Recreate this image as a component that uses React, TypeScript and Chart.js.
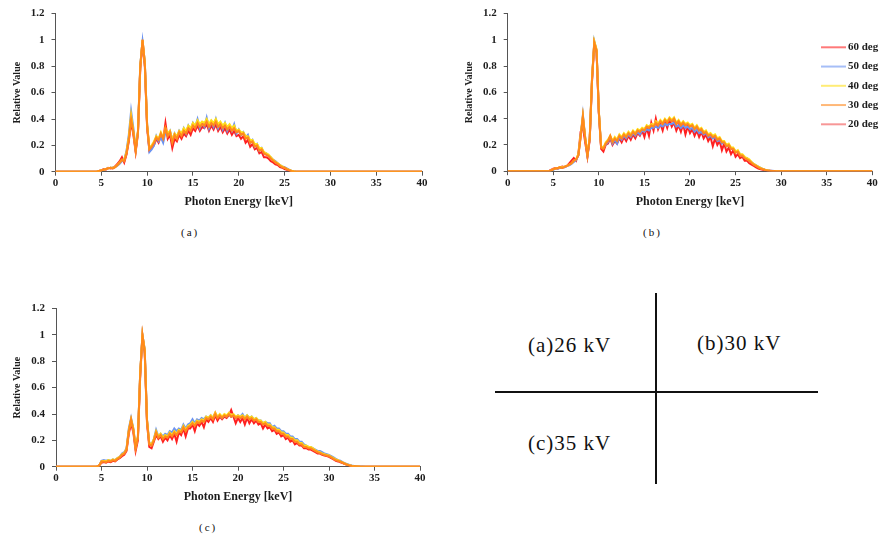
import React, { useEffect, useRef } from 'react';
import { Chart, registerables } from 'chart.js';

Chart.register(...registerables);

// ---------- data ----------
const E_START = 4.5; // keV of first sample in every series
const E_STEP = 0.25; // keV between samples
const E_MIN = 0;
const E_MAX = 40;
const X_STEP = 5;
const Y_MAX = 1.2;
const Y_STEP = 0.2;

const SERIES_LABELS = ['60 deg', '50 deg', '40 deg', '30 deg', '20 deg'];
const SERIES_COLORS = ['#ff2020', '#6b93f2', '#ffe01a', '#ff891c', '#f25252'];
const SERIES_ORDER = [4, 3, 1, 0, 2];

const PANEL_LABELS = ['(a)', '(b)', '(c)'];
const KEY_LABELS = ['(a)26 kV', '(b)30 kV', '(c)35 kV'];

// (a) 26 kV
const A_60 = [
  0, 0.005, 0.01, 0.02, 0.015, 0.03, 0.025, 0.03, 0.04, 0.06,
  0.08, 0.11, 0.07, 0.13, 0.23, 0.38, 0.28, 0.15, 0.29, 0.78,
  0.98, 0.80, 0.33, 0.16, 0.18, 0.20, 0.25, 0.22, 0.27, 0.24,
  0.37, 0.25, 0.28, 0.18, 0.25, 0.23, 0.28, 0.25, 0.29, 0.27,
  0.31, 0.28, 0.33, 0.31, 0.35, 0.31, 0.34, 0.33, 0.36, 0.31,
  0.35, 0.32, 0.36, 0.31, 0.34, 0.30, 0.33, 0.29, 0.32, 0.28,
  0.31, 0.27, 0.28, 0.25, 0.27, 0.22, 0.24, 0.19, 0.21, 0.17,
  0.18, 0.14, 0.15, 0.11, 0.11, 0.10, 0.08, 0.07, 0.055, 0.05,
  0.035, 0.03, 0.02, 0.015, 0.008, 0.004, 0.001, 0, 0,
];
const A_50 = [
  0, 0.005, 0.01, 0.015, 0.02, 0.025, 0.03, 0.03, 0.035, 0.045,
  0.06, 0.08, 0.09, 0.16, 0.28, 0.46, 0.33, 0.17, 0.31, 0.81,
  0.99, 0.83, 0.36, 0.15, 0.17, 0.20, 0.27, 0.23, 0.26, 0.22,
  0.30, 0.28, 0.31, 0.24, 0.29, 0.26, 0.31, 0.28, 0.33, 0.29,
  0.35, 0.32, 0.37, 0.34, 0.40, 0.33, 0.37, 0.34, 0.41, 0.33,
  0.38, 0.34, 0.40, 0.33, 0.37, 0.32, 0.37, 0.31, 0.35, 0.31,
  0.36, 0.29, 0.32, 0.28, 0.30, 0.26, 0.28, 0.22, 0.24, 0.19,
  0.21, 0.16, 0.18, 0.14, 0.14, 0.12, 0.11, 0.09, 0.08, 0.065,
  0.05, 0.04, 0.035, 0.025, 0.015, 0.008, 0.003, 0.001, 0,
];
const A_40 = [
  0, 0.005, 0.01, 0.015, 0.02, 0.025, 0.03, 0.03, 0.035, 0.05,
  0.07, 0.09, 0.09, 0.15, 0.26, 0.43, 0.31, 0.17, 0.31, 0.80,
  1.00, 0.83, 0.36, 0.18, 0.20, 0.23, 0.27, 0.25, 0.30, 0.26,
  0.33, 0.29, 0.31, 0.24, 0.29, 0.27, 0.31, 0.29, 0.33, 0.31,
  0.35, 0.33, 0.37, 0.35, 0.39, 0.36, 0.38, 0.37, 0.40, 0.36,
  0.39, 0.37, 0.40, 0.36, 0.38, 0.35, 0.37, 0.34, 0.36, 0.33,
  0.35, 0.31, 0.32, 0.30, 0.30, 0.27, 0.27, 0.24, 0.24, 0.21,
  0.21, 0.18, 0.18, 0.15, 0.14, 0.13, 0.11, 0.09, 0.075, 0.065,
  0.05, 0.04, 0.03, 0.022, 0.014, 0.007, 0.003, 0, 0,
];
const A_30 = [
  0, 0.005, 0.01, 0.015, 0.02, 0.025, 0.03, 0.025, 0.035, 0.05,
  0.07, 0.09, 0.08, 0.14, 0.24, 0.40, 0.30, 0.16, 0.30, 0.80,
  1.00, 0.82, 0.35, 0.17, 0.19, 0.22, 0.26, 0.24, 0.29, 0.25,
  0.33, 0.27, 0.30, 0.22, 0.28, 0.25, 0.30, 0.27, 0.31, 0.29,
  0.33, 0.31, 0.35, 0.33, 0.37, 0.34, 0.36, 0.35, 0.38, 0.34,
  0.37, 0.35, 0.38, 0.34, 0.36, 0.33, 0.35, 0.32, 0.34, 0.31,
  0.33, 0.30, 0.31, 0.28, 0.29, 0.25, 0.26, 0.22, 0.23, 0.19,
  0.20, 0.16, 0.17, 0.14, 0.13, 0.12, 0.10, 0.085, 0.07, 0.06,
  0.045, 0.035, 0.03, 0.02, 0.012, 0.006, 0.002, 0, 0,
];
const A_20 = [
  0, 0.005, 0.01, 0.015, 0.02, 0.025, 0.03, 0.025, 0.035, 0.05,
  0.07, 0.09, 0.08, 0.14, 0.25, 0.41, 0.30, 0.16, 0.30, 0.79,
  1.00, 0.82, 0.35, 0.17, 0.19, 0.22, 0.26, 0.25, 0.28, 0.26,
  0.32, 0.28, 0.30, 0.23, 0.28, 0.26, 0.30, 0.28, 0.32, 0.30,
  0.33, 0.32, 0.36, 0.33, 0.37, 0.35, 0.37, 0.35, 0.38, 0.35,
  0.37, 0.36, 0.38, 0.35, 0.36, 0.34, 0.35, 0.33, 0.34, 0.32,
  0.33, 0.30, 0.31, 0.29, 0.29, 0.26, 0.26, 0.23, 0.23, 0.20,
  0.20, 0.17, 0.17, 0.14, 0.13, 0.12, 0.10, 0.09, 0.07, 0.06,
  0.045, 0.035, 0.03, 0.02, 0.012, 0.006, 0.002, 0, 0,
];

// (b) 30 kV
const B_60 = [
  0, 0.01, 0.02, 0.025, 0.02, 0.03, 0.035, 0.03, 0.04, 0.06,
  0.08, 0.10, 0.08, 0.13, 0.30, 0.34, 0.22, 0.11, 0.24, 0.68,
  0.97, 0.90, 0.44, 0.17, 0.15, 0.20, 0.21, 0.25, 0.20, 0.23,
  0.21, 0.25, 0.22, 0.26, 0.23, 0.27, 0.24, 0.28, 0.25, 0.29,
  0.27, 0.31, 0.26, 0.33, 0.27, 0.37, 0.31, 0.40, 0.32, 0.36,
  0.31, 0.38, 0.33, 0.39, 0.34, 0.37, 0.31, 0.35, 0.30, 0.36,
  0.28, 0.34, 0.29, 0.32, 0.27, 0.31, 0.26, 0.30, 0.25, 0.28,
  0.23, 0.26, 0.19, 0.25, 0.20, 0.23, 0.16, 0.21, 0.15, 0.18,
  0.13, 0.16, 0.11, 0.13, 0.10, 0.11, 0.08, 0.08, 0.06, 0.05,
  0.04, 0.03, 0.02, 0.015, 0.01, 0.006, 0.004, 0.002, 0.001, 0,
  0, 0, 0,
];
const B_50 = [
  0, 0.005, 0.01, 0.02, 0.02, 0.025, 0.03, 0.03, 0.04, 0.045,
  0.055, 0.07, 0.085, 0.12, 0.27, 0.43, 0.26, 0.12, 0.25, 0.70,
  0.99, 0.92, 0.45, 0.19, 0.18, 0.20, 0.22, 0.26, 0.21, 0.24,
  0.21, 0.26, 0.24, 0.27, 0.25, 0.28, 0.26, 0.29, 0.27, 0.30,
  0.28, 0.31, 0.30, 0.32, 0.31, 0.33, 0.33, 0.34, 0.33, 0.35,
  0.34, 0.36, 0.35, 0.36, 0.36, 0.37, 0.34, 0.35, 0.33, 0.35,
  0.33, 0.34, 0.32, 0.33, 0.30, 0.32, 0.29, 0.30, 0.28, 0.29,
  0.26, 0.27, 0.25, 0.26, 0.23, 0.24, 0.21, 0.22, 0.19, 0.20,
  0.17, 0.17, 0.15, 0.15, 0.13, 0.12, 0.10, 0.10, 0.08, 0.07,
  0.055, 0.045, 0.035, 0.025, 0.018, 0.012, 0.008, 0.005, 0.003, 0.001,
  0, 0, 0,
];
const B_40 = [
  0, 0.005, 0.015, 0.02, 0.025, 0.03, 0.03, 0.035, 0.04, 0.05,
  0.06, 0.08, 0.09, 0.13, 0.27, 0.42, 0.26, 0.13, 0.26, 0.71,
  0.99, 0.93, 0.46, 0.19, 0.18, 0.22, 0.24, 0.27, 0.23, 0.26,
  0.24, 0.28, 0.26, 0.29, 0.27, 0.30, 0.28, 0.31, 0.29, 0.32,
  0.31, 0.33, 0.32, 0.35, 0.34, 0.36, 0.35, 0.38, 0.36, 0.39,
  0.37, 0.40, 0.38, 0.41, 0.39, 0.41, 0.37, 0.39, 0.36, 0.38,
  0.36, 0.37, 0.35, 0.36, 0.33, 0.35, 0.32, 0.33, 0.30, 0.31,
  0.28, 0.29, 0.27, 0.28, 0.25, 0.26, 0.23, 0.23, 0.20, 0.21,
  0.18, 0.18, 0.15, 0.16, 0.13, 0.13, 0.11, 0.10, 0.09, 0.07,
  0.055, 0.045, 0.035, 0.025, 0.018, 0.012, 0.007, 0.004, 0.002, 0.001,
  0, 0, 0,
];
const B_30 = [
  0, 0.005, 0.015, 0.02, 0.025, 0.03, 0.025, 0.035, 0.04, 0.05,
  0.06, 0.08, 0.09, 0.12, 0.26, 0.42, 0.25, 0.12, 0.25, 0.70,
  0.98, 0.92, 0.45, 0.18, 0.17, 0.21, 0.23, 0.27, 0.22, 0.25,
  0.23, 0.27, 0.25, 0.28, 0.26, 0.29, 0.27, 0.30, 0.28, 0.31,
  0.30, 0.32, 0.31, 0.34, 0.33, 0.35, 0.34, 0.37, 0.35, 0.38,
  0.36, 0.39, 0.37, 0.40, 0.38, 0.40, 0.36, 0.38, 0.35, 0.37,
  0.35, 0.36, 0.34, 0.35, 0.32, 0.34, 0.31, 0.32, 0.29, 0.30,
  0.27, 0.28, 0.26, 0.27, 0.24, 0.25, 0.22, 0.22, 0.19, 0.20,
  0.17, 0.17, 0.14, 0.15, 0.12, 0.12, 0.10, 0.09, 0.08, 0.065,
  0.05, 0.04, 0.03, 0.02, 0.015, 0.01, 0.006, 0.004, 0.002, 0.001,
  0, 0, 0,
];
const B_20 = [
  0, 0.005, 0.015, 0.02, 0.025, 0.03, 0.025, 0.035, 0.04, 0.05,
  0.06, 0.08, 0.09, 0.12, 0.26, 0.41, 0.25, 0.12, 0.25, 0.70,
  0.98, 0.92, 0.45, 0.18, 0.17, 0.21, 0.23, 0.26, 0.23, 0.25,
  0.24, 0.27, 0.25, 0.28, 0.27, 0.29, 0.28, 0.30, 0.29, 0.31,
  0.30, 0.32, 0.32, 0.34, 0.33, 0.35, 0.35, 0.36, 0.36, 0.38,
  0.37, 0.38, 0.38, 0.39, 0.38, 0.39, 0.36, 0.38, 0.35, 0.37,
  0.35, 0.36, 0.34, 0.35, 0.33, 0.34, 0.31, 0.32, 0.29, 0.30,
  0.27, 0.28, 0.26, 0.27, 0.24, 0.25, 0.22, 0.22, 0.20, 0.20,
  0.17, 0.17, 0.15, 0.15, 0.12, 0.12, 0.10, 0.09, 0.08, 0.065,
  0.05, 0.04, 0.03, 0.02, 0.015, 0.01, 0.006, 0.004, 0.002, 0.001,
  0, 0, 0,
];

// (c) 35 kV
const C_60 = [
  0, 0.01, 0.03, 0.035, 0.03, 0.04, 0.035, 0.045, 0.04, 0.055,
  0.065, 0.08, 0.09, 0.12, 0.25, 0.33, 0.26, 0.12, 0.20, 0.68,
  0.99, 0.86, 0.33, 0.15, 0.14, 0.19, 0.24, 0.21, 0.23, 0.19,
  0.22, 0.20, 0.24, 0.21, 0.25, 0.19, 0.26, 0.24, 0.29, 0.23,
  0.29, 0.29, 0.32, 0.27, 0.33, 0.31, 0.34, 0.30, 0.36, 0.34,
  0.37, 0.34, 0.39, 0.35, 0.38, 0.36, 0.38, 0.37, 0.39, 0.43,
  0.38, 0.33, 0.37, 0.34, 0.37, 0.32, 0.37, 0.33, 0.36, 0.33,
  0.35, 0.32, 0.33, 0.29, 0.32, 0.29, 0.30, 0.27, 0.28, 0.25,
  0.26, 0.23, 0.24, 0.21, 0.22, 0.19, 0.20, 0.17, 0.18, 0.16,
  0.16, 0.14, 0.14, 0.13, 0.13, 0.12, 0.11, 0.10, 0.10, 0.09,
  0.085, 0.08, 0.075, 0.065, 0.055, 0.045, 0.04, 0.034, 0.027, 0.02,
  0.014, 0.009, 0.005, 0.003, 0.001, 0, 0, 0, 0,
];
const C_50 = [
  0, 0.01, 0.045, 0.05, 0.045, 0.05, 0.045, 0.055, 0.05, 0.065,
  0.075, 0.10, 0.11, 0.14, 0.29, 0.37, 0.29, 0.15, 0.23, 0.71,
  1.00, 0.89, 0.36, 0.18, 0.17, 0.21, 0.28, 0.23, 0.25, 0.23,
  0.25, 0.24, 0.27, 0.26, 0.29, 0.27, 0.29, 0.28, 0.32, 0.29,
  0.32, 0.33, 0.36, 0.33, 0.36, 0.35, 0.37, 0.36, 0.38, 0.37,
  0.39, 0.37, 0.40, 0.38, 0.39, 0.37, 0.39, 0.38, 0.40, 0.38,
  0.39, 0.37, 0.39, 0.38, 0.40, 0.37, 0.39, 0.37, 0.38, 0.36,
  0.37, 0.35, 0.35, 0.33, 0.34, 0.33, 0.33, 0.30, 0.31, 0.29,
  0.29, 0.27, 0.27, 0.25, 0.25, 0.23, 0.23, 0.21, 0.21, 0.19,
  0.19, 0.17, 0.16, 0.15, 0.15, 0.14, 0.13, 0.12, 0.12, 0.11,
  0.10, 0.095, 0.09, 0.08, 0.07, 0.06, 0.05, 0.045, 0.035, 0.027,
  0.02, 0.014, 0.009, 0.006, 0.004, 0.002, 0.001, 0.001, 0,
];
const C_40 = [
  0, 0.01, 0.04, 0.045, 0.04, 0.05, 0.045, 0.055, 0.05, 0.065,
  0.075, 0.095, 0.105, 0.135, 0.28, 0.36, 0.29, 0.15, 0.23, 0.71,
  1.00, 0.89, 0.36, 0.18, 0.17, 0.21, 0.27, 0.23, 0.25, 0.22,
  0.24, 0.23, 0.26, 0.24, 0.27, 0.25, 0.28, 0.27, 0.31, 0.28,
  0.31, 0.32, 0.34, 0.32, 0.35, 0.34, 0.36, 0.35, 0.38, 0.37,
  0.39, 0.37, 0.41, 0.38, 0.40, 0.38, 0.40, 0.39, 0.41, 0.39,
  0.40, 0.38, 0.39, 0.38, 0.39, 0.37, 0.39, 0.37, 0.38, 0.36,
  0.37, 0.35, 0.35, 0.33, 0.34, 0.32, 0.32, 0.30, 0.30, 0.28,
  0.28, 0.26, 0.26, 0.24, 0.24, 0.22, 0.22, 0.20, 0.20, 0.18,
  0.18, 0.16, 0.16, 0.15, 0.15, 0.14, 0.125, 0.115, 0.11, 0.10,
  0.095, 0.09, 0.085, 0.075, 0.065, 0.055, 0.05, 0.04, 0.032, 0.024,
  0.017, 0.011, 0.007, 0.004, 0.002, 0.001, 0, 0, 0,
];
const C_30 = [
  0, 0.01, 0.04, 0.04, 0.035, 0.045, 0.04, 0.05, 0.045, 0.06,
  0.07, 0.09, 0.10, 0.13, 0.27, 0.36, 0.28, 0.14, 0.22, 0.70,
  1.00, 0.88, 0.35, 0.17, 0.16, 0.20, 0.26, 0.22, 0.24, 0.21,
  0.23, 0.22, 0.25, 0.23, 0.26, 0.24, 0.27, 0.26, 0.30, 0.27,
  0.30, 0.31, 0.33, 0.31, 0.34, 0.33, 0.35, 0.34, 0.37, 0.36,
  0.38, 0.36, 0.40, 0.37, 0.39, 0.37, 0.39, 0.38, 0.40, 0.38,
  0.39, 0.37, 0.38, 0.37, 0.38, 0.36, 0.38, 0.36, 0.37, 0.35,
  0.36, 0.34, 0.34, 0.32, 0.33, 0.31, 0.31, 0.29, 0.29, 0.27,
  0.27, 0.25, 0.25, 0.23, 0.23, 0.21, 0.21, 0.19, 0.19, 0.17,
  0.17, 0.15, 0.15, 0.14, 0.14, 0.13, 0.12, 0.11, 0.105, 0.095,
  0.09, 0.085, 0.08, 0.07, 0.06, 0.05, 0.045, 0.038, 0.03, 0.022,
  0.015, 0.01, 0.006, 0.004, 0.002, 0.001, 0, 0, 0,
];
const C_20 = [
  0, 0.01, 0.04, 0.04, 0.04, 0.045, 0.04, 0.05, 0.05, 0.06,
  0.07, 0.09, 0.10, 0.13, 0.27, 0.35, 0.28, 0.14, 0.22, 0.70,
  1.00, 0.88, 0.35, 0.17, 0.16, 0.20, 0.26, 0.22, 0.24, 0.22,
  0.23, 0.23, 0.25, 0.24, 0.26, 0.25, 0.27, 0.27, 0.29, 0.28,
  0.30, 0.31, 0.33, 0.32, 0.34, 0.33, 0.35, 0.35, 0.37, 0.36,
  0.38, 0.37, 0.41, 0.37, 0.39, 0.38, 0.39, 0.38, 0.40, 0.38,
  0.39, 0.37, 0.38, 0.37, 0.38, 0.36, 0.38, 0.36, 0.37, 0.35,
  0.36, 0.34, 0.34, 0.32, 0.33, 0.31, 0.31, 0.29, 0.29, 0.27,
  0.27, 0.25, 0.25, 0.23, 0.23, 0.21, 0.21, 0.19, 0.19, 0.17,
  0.17, 0.15, 0.15, 0.14, 0.14, 0.13, 0.12, 0.11, 0.105, 0.095,
  0.09, 0.085, 0.08, 0.07, 0.06, 0.05, 0.045, 0.038, 0.03, 0.022,
  0.015, 0.01, 0.006, 0.004, 0.002, 0.001, 0, 0, 0,
];

// ---------- styling ----------
const SERIF = '"Liberation Serif", "Times New Roman", serif';
const AXIS_COLOR = '#555555';
const TEXT_COLOR = '#1c1c1c';

const insideLegend = {
  id: 'insideLegend',
  afterDatasetsDraw(chart: any, _args: any, opts: any) {
    if (!opts || !opts.display) return;
    const ctx = chart.ctx;
    ctx.save();
    chart.data.datasets.forEach((ds: any, i: number) => {
      const y = opts.y + i * opts.gap;
      ctx.globalAlpha = 0.6;
      ctx.strokeStyle = ds.borderColor;
      ctx.lineWidth = 2;
      ctx.beginPath();
      ctx.moveTo(opts.x, y);
      ctx.lineTo(opts.x + opts.w, y);
      ctx.stroke();
      ctx.globalAlpha = 1;
      ctx.fillStyle = TEXT_COLOR;
      ctx.font = `bold 11px ${SERIF}`;
      ctx.textBaseline = 'middle';
      ctx.textAlign = 'left';
      ctx.fillText(ds.label, opts.x + opts.w + 2, y);
    });
    ctx.restore();
  },
};

type PanelProps = {
  left: number;
  top: number;
  width: number;
  height: number;
  plot: { l: number; t: number; r: number; b: number };
  series: number[][];
  legend?: { x: number; y: number; gap: number; w: number };
};

function SpectrumPanel({ left, top, width, height, plot, series, legend }: PanelProps) {
  const ref = useRef<HTMLCanvasElement | null>(null);
  useEffect(() => {
    if (!ref.current) return;
    const datasets = series.map((vals, k) => ({
      label: SERIES_LABELS[k],
      data: [
        { x: E_MIN, y: 0 },
        ...vals.map((v, i) => ({ x: E_START + i * E_STEP, y: v })),
        { x: E_MAX, y: 0 },
      ],
      borderColor: SERIES_COLORS[k],
      backgroundColor: SERIES_COLORS[k],
      borderWidth: 2,
      pointRadius: 0,
      tension: 0,
      fill: false,
      order: SERIES_ORDER[k],
    }));
    const yW = plot.l - left;
    const xH = top + height - plot.b;
    const tickFont = { family: SERIF, size: 11, weight: 'bold' as const };
    const chart = new Chart(ref.current, {
      type: 'line',
      data: { datasets },
      options: {
        responsive: false,
        animation: false,
        layout: { padding: { left: 0, top: plot.t - top, right: left + width - plot.r, bottom: 0 } },
        scales: {
          x: {
            type: 'linear',
            min: E_MIN,
            max: E_MAX,
            ticks: { stepSize: X_STEP, font: tickFont, color: TEXT_COLOR, padding: 1, maxRotation: 0, autoSkip: false },
            grid: { drawOnChartArea: false, drawTicks: true, tickLength: 4, color: AXIS_COLOR },
            border: { display: true, color: AXIS_COLOR, width: 1 },
            title: {
              display: true,
              text: 'Photon Energy [keV]',
              font: { family: SERIF, size: 12, weight: 'bold' },
              color: TEXT_COLOR,
              padding: { top: 0, bottom: 6 },
            },
            afterFit: (s: any) => { s.height = xH; },
          },
          y: {
            type: 'linear',
            min: 0,
            max: Y_MAX,
            ticks: {
              stepSize: Y_STEP,
              font: tickFont,
              color: TEXT_COLOR,
              padding: 7,
              callback: (v: any) => String(Math.round(Number(v) * 10) / 10),
            },
            grid: { drawOnChartArea: false, drawTicks: true, tickLength: 4, color: AXIS_COLOR },
            border: { display: true, color: AXIS_COLOR, width: 1 },
            title: {
              display: true,
              text: 'Relative Value',
              font: { family: SERIF, size: 10, weight: 'bold' },
              color: TEXT_COLOR,
              padding: { top: 11.5, bottom: 0 },
            },
            afterFit: (s: any) => { s.width = yW; },
          },
        },
        plugins: {
          legend: { display: false },
          tooltip: { enabled: false },
          insideLegend: legend ? { display: true, ...legend } : { display: false },
        } as any,
      },
      plugins: [insideLegend],
    });
    return () => chart.destroy();
  }, []);
  return (
    <canvas
      ref={ref}
      width={width}
      height={height}
      style={{ position: 'absolute', left, top, width, height }}
    />
  );
}

const textBase: React.CSSProperties = {
  position: 'absolute',
  fontFamily: SERIF,
  color: '#111',
  whiteSpace: 'nowrap',
  lineHeight: 1,
};

export default function App() {
  return (
    <div style={{ position: 'absolute', left: 0, top: 0, width: 880, height: 539, background: '#fff', overflow: 'hidden' }}>
      <SpectrumPanel
        left={0}
        top={0}
        width={440}
        height={215}
        plot={{ l: 55.5, t: 11, r: 422, b: 171.7 }}
        series={[A_60, A_50, A_40, A_30, A_20]}
      />
      <SpectrumPanel
        left={452}
        top={0}
        width={428}
        height={215}
        plot={{ l: 507.7, t: 11, r: 872.3, b: 171.2 }}
        series={[B_60, B_50, B_40, B_30, B_20]}
        legend={{ x: 369, y: 47.3, gap: 19.25, w: 25 }}
      />
      <SpectrumPanel
        left={0}
        top={295}
        width={440}
        height={215}
        plot={{ l: 56, t: 305.7, r: 420, b: 466.7 }}
        series={[C_60, C_50, C_40, C_30, C_20]}
      />

      <div style={{ ...textBase, left: 181, top: 227, fontSize: 11, letterSpacing: 2 }}>{PANEL_LABELS[0]}</div>
      <div style={{ ...textBase, left: 643, top: 227, fontSize: 11, letterSpacing: 2 }}>{PANEL_LABELS[1]}</div>
      <div style={{ ...textBase, left: 199, top: 522, fontSize: 11, letterSpacing: 2 }}>{PANEL_LABELS[2]}</div>

      <div style={{ position: 'absolute', left: 655, top: 293, width: 2, height: 191, background: '#111' }} />
      <div style={{ position: 'absolute', left: 495, top: 391, width: 323, height: 2, background: '#111' }} />

      <div style={{ ...textBase, left: 528, top: 335, fontSize: 21, letterSpacing: 1 }}>{KEY_LABELS[0]}</div>
      <div style={{ ...textBase, left: 697, top: 333, fontSize: 21, letterSpacing: 1 }}>{KEY_LABELS[1]}</div>
      <div style={{ ...textBase, left: 528, top: 433, fontSize: 21, letterSpacing: 1 }}>{KEY_LABELS[2]}</div>
    </div>
  );
}
